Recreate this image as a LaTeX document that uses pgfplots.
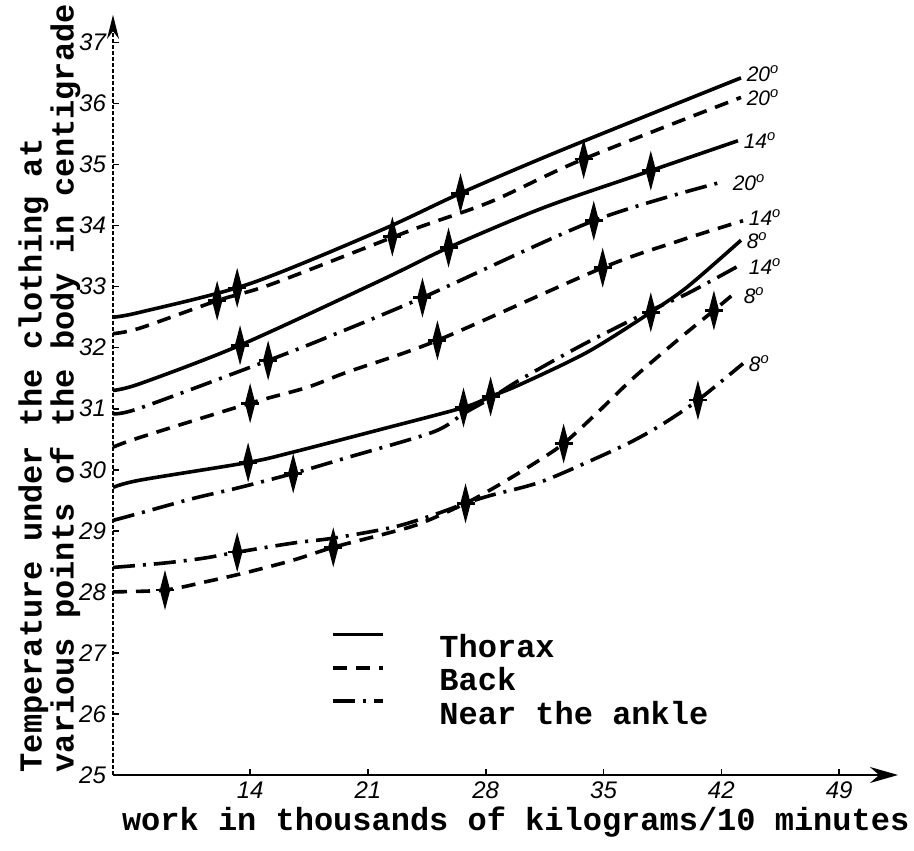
\documentclass[border=0pt]{standalone}
\usepackage{fontspec}
\setmainfont{Liberation Mono}
\newfontfamily\tickfont{Liberation Sans}
\usepackage{pgfplots}
\pgfplotsset{compat=1.18}
\usetikzlibrary{arrows.meta}

\pgfdeclareplotmark{spindle}{%
  \pgfpathmoveto{\pgfqpoint{0pt}{10pt}}%
  \pgfpathlineto{\pgfqpoint{2.6pt}{0pt}}%
  \pgfpathlineto{\pgfqpoint{0pt}{-10pt}}%
  \pgfpathlineto{\pgfqpoint{-2.6pt}{0pt}}%
  \pgfpathclose
  \pgfusepathqfill
  \pgfsetlinewidth{1.3pt}%
  \pgfpathmoveto{\pgfqpoint{-4.5pt}{0pt}}%
  \pgfpathlineto{\pgfqpoint{4.5pt}{0pt}}%
  \pgfusepathqstroke
}

\tikzset{
  thor/.style={black, line width=1.8pt, solid},
  back/.style={black, line width=1.8pt, dash pattern=on 7pt off 4.5pt},
  ankle/.style={black, line width=1.8pt, dash pattern=on 11pt off 4pt on 1.5pt off 4pt},
  endlab/.style={anchor=west, inner sep=0.5pt, xshift=1.5pt, font=\tickfont\itshape\fontsize{10.5}{10.5}\selectfont},
}

\begin{document}
\begin{tikzpicture}
\useasboundingbox (0,0) rectangle (457pt,425pt);
\begin{axis}[
  at={(56.5pt,37.5pt)}, anchor=south west,
  width=392.5pt, height=380pt, scale only axis,
  xmin=5.85, xmax=52.5, ymin=25, ymax=37.45,
  enlargelimits=false, clip=false,
  axis lines=left,
  x axis line style={black, line width=1pt, -{Stealth[length=14pt,width=8pt]}},
  y axis line style={black, line width=0.7pt, dash pattern=on 2pt off 1pt, -{Stealth[length=12pt,width=6pt]}},
  xtick={14,21,28,35,42,49}, ytick={25,26,...,37},
  tick align=inside, major tick length=3pt,
  tick style={black, line width=0.8pt},
  /pgf/number format/assume math mode=true,
  ticklabel style={font=\tickfont\itshape\fontsize{12}{12}\selectfont},
  xlabel={work in thousands of kilograms/10 minutes},
  xlabel style={font=\bfseries\fontsize{16}{16}\selectfont, at={(axis description cs:0.513,-0.062)}, anchor=center, inner sep=0pt},
  ylabel={Temperature under the clothing at\\various points of the body in centigrade},
  ylabel style={font=\bfseries\fontsize{16}{16}\selectfont, align=left, at={(axis description cs:-0.121,0.003)}, anchor=north west, inner sep=0pt},
  legend style={at={(axis cs:18.82,27.34)}, anchor=north west, draw=none, fill=none,
    font=\bfseries\fontsize{16}{16}\selectfont, row sep=1.5pt, inner sep=0pt, nodes={inner sep=1pt}},
  legend cell align=left,
  legend image code/.code={\draw[#1] (0pt,6.5pt) -- (25pt,6.5pt); \path[draw=none] (0pt,0pt) -- (52pt,0pt);},
]
% Thorax 20
\addplot[thor, smooth] coordinates {(5.85,32.50) (7.45,32.58) (14,33.05) (21.74,33.92) (26.5,34.53) (32.45,35.23) (43.17,36.42)}
  node[endlab, pos=1, yshift=2pt]{20\textsuperscript{o}};
\addlegendentry{Thorax}
% Back 20
\addplot[back, smooth] coordinates {(5.85,32.23) (7.45,32.32) (12.04,32.77) (15.37,33.05) (23.52,33.92) (28.29,34.39) (33.64,35.07) (43.17,36.10)}
  node[endlab, pos=1]{20\textsuperscript{o}};
\addlegendentry{Back}
% Ankle 20
\addplot[ankle, smooth] coordinates {(5.85,30.92) (7.45,31.01) (15.07,31.79) (18.58,32.17) (24.24,32.82) (34.42,34.08) (41.98,34.71)}
  node[endlab, pos=1, xshift=3pt]{20\textsuperscript{o}};
\addlegendentry{Near the ankle}
% Thorax 14
\addplot[thor, smooth, forget plot] coordinates {(5.85,31.30) (7.45,31.41) (13.4,32.04) (21.74,33.10) (25.79,33.64) (31.5,34.30) (37.81,34.90) (42.99,35.39)}
  node[endlab, pos=1]{14\textsuperscript{o}};
% Back 14
\addplot[back, smooth, forget plot] coordinates {(5.85,30.37) (7.45,30.53) (14,31.09) (17.39,31.35) (19.77,31.60) (25.13,32.12) (34.95,33.31) (39.6,33.76) (43.29,34.08)}
  node[endlab, pos=1, yshift=1.5pt]{14\textsuperscript{o}};
% Ankle 14
\addplot[ankle, smooth, forget plot] coordinates {(5.85,29.17) (7.45,29.29) (10.61,29.53) (13.23,29.70) (16.56,29.94) (19.77,30.20) (24.89,30.62) (26.68,30.92) (28.29,31.17) (30.07,31.48) (33.64,32.03) (37.81,32.61) (40.01,32.89) (43.29,33.38)}
  node[endlab, pos=1, yshift=-1.5pt]{14\textsuperscript{o}};
% Thorax 8
\addplot[thor, smooth, forget plot] coordinates {(5.85,29.71) (7.45,29.83) (13.88,30.12) (16.56,30.29) (21.74,30.66) (26.68,31.02) (28.29,31.20) (30.07,31.40) (34.06,31.93) (37.81,32.58) (40.0,33.00) (43.17,33.76)}
  node[endlab, pos=1]{8\textsuperscript{o}};
% Back 8
\addplot[back, smooth, forget plot] coordinates {(5.85,28.00) (8.94,28.03) (11.44,28.17) (13.82,28.32) (16.56,28.52) (18.94,28.73) (22.15,28.96) (24.12,29.12) (26.8,29.45) (28.71,29.74) (30.86,30.10) (32.63,30.43) (34.65,30.94) (36.8,31.51) (39.6,32.17) (41.56,32.61) (42.99,32.94)}
  node[endlab, pos=1, yshift=-2.5pt]{8\textsuperscript{o}};
% Ankle 8
\addplot[ankle, smooth, forget plot] coordinates {(5.85,28.40) (8.82,28.47) (11.20,28.55) (13.23,28.65) (16.56,28.80) (18.94,28.88) (22.51,29.06) (24.89,29.26) (26.8,29.45) (28.29,29.58) (31.26,29.80) (34.65,30.20) (36.8,30.48) (38.58,30.76) (40.61,31.14) (43.29,31.74)}
  node[endlab, pos=1]{8\textsuperscript{o}};
% spindle markers
\addplot[only marks, mark=spindle, black, forget plot] coordinates {
 (12.04,32.77) (22.45,33.82) (33.82,35.09)
 (13.23,32.98) (26.5,34.53)
 (13.4,32.04) (25.79,33.64) (37.81,34.90)
 (15.07,31.79) (24.24,32.82) (34.42,34.08)
 (14.0,31.09) (25.13,32.12) (34.95,33.31)
 (13.88,30.12) (26.68,31.02) (28.29,31.2) (37.81,32.58)
 (16.56,29.94)
 (13.23,28.65) (40.61,31.14)
 (8.94,28.03) (18.94,28.73) (26.8,29.45) (32.63,30.43) (41.56,32.61)
};
\end{axis}
\end{tikzpicture}
\end{document}
